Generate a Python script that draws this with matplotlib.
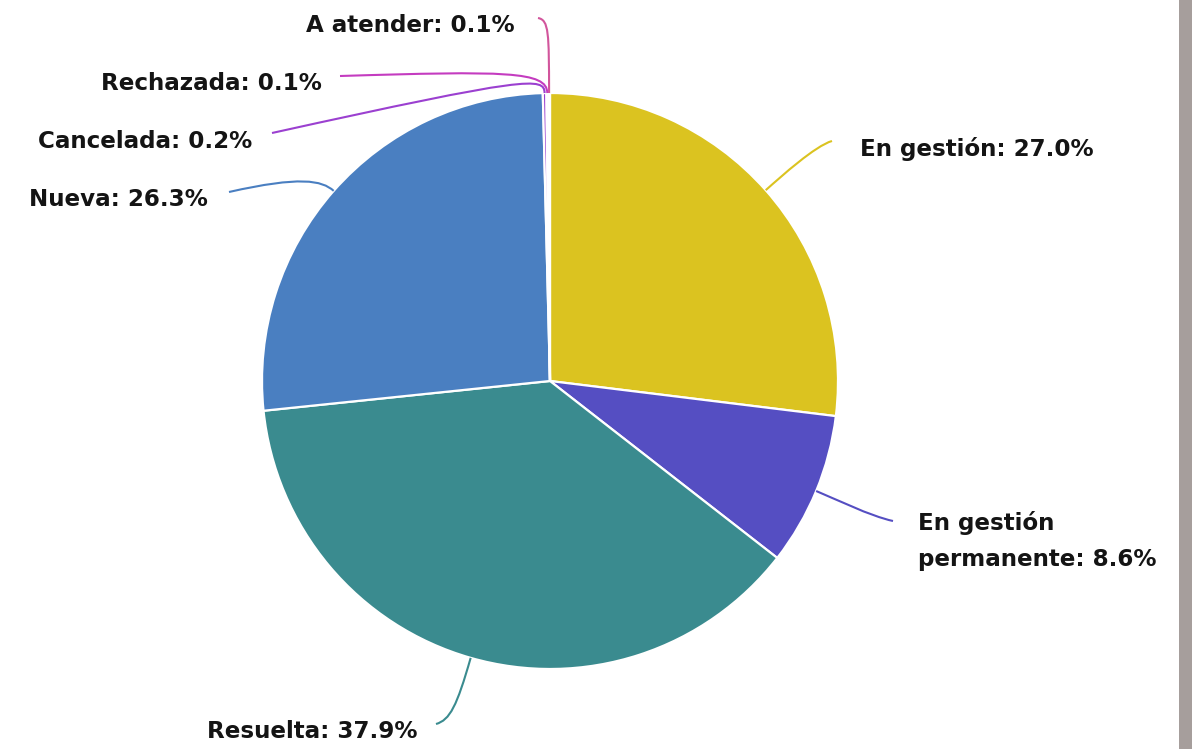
import matplotlib.pyplot as plt
from matplotlib.path import Path
from matplotlib.patches import PathPatch, Rectangle
import numpy as np

# datos del gráfico (porcentajes)
categorias = ["En gestión", "En gestión\npermanente", "Resuelta", "Nueva",
              "Cancelada", "Rechazada", "A atender"]
valores = [27.0, 8.6, 37.9, 26.3, 0.2, 0.1, 0.1]
colores = ["#DBC320", "#554EC2", "#3A8B8F", "#4A7FC1",
           "#9B40D0", "#C43CC0", "#D2559C"]

W, H = 1192, 749
cx, cy, R = 550, 381, 288   # centro y radio en pixeles (coordenadas imagen)

# posicion de las etiquetas: (x, y, ha, punto final del conector, a, control)
etiquetas = {
    "En gestión": (860, 149, "left", (832, 141), 22, (815, 146)),
    "En gestión\npermanente": (918, 541, "left", (893, 521), 20, (870, 516)),
    "Resuelta": (207, 731, "left", (436, 724), 50, (450, 720)),
    "Nueva": (208, 199, "right", (229, 192), 16, (300, 176)),
    "Cancelada": (252, 142, "right", (272, 133), 16, (530, 76)),
    "Rechazada": (322, 84, "right", (340, 76), 22, (505, 71)),
    "A atender": (515, 25, "right", (538, 18), 60, (549, 20)),
}


def img(x, y):
    # coordenadas de imagen (y hacia abajo) -> datos
    return (x, H - y)


fig = plt.figure(figsize=(W / 100, H / 100), dpi=100)
ax = fig.add_axes([0, 0, 1, 1])
ax.axis("off")

wedges, _ = ax.pie(valores, colors=colores, startangle=90, counterclock=False,
                   radius=R, center=img(cx, cy),
                   wedgeprops=dict(edgecolor="white", linewidth=1.6))
ax.set_xlim(0, W)
ax.set_ylim(0, H)
ax.set_aspect("equal")

for w, cat, val, col in zip(wedges, categorias, valores, colores):
    ang = np.deg2rad((w.theta1 + w.theta2) / 2)
    dx, dy = np.cos(ang), np.sin(ang)
    x0, y0 = img(cx, cy)
    p0 = (x0 + R * dx, y0 + R * dy)
    tx, ty, ha, fin, a, ctrl = etiquetas[cat]
    p1 = (p0[0] + a * dx, p0[1] + a * dy)
    p2 = img(*ctrl)
    p3 = img(*fin)
    path = Path([p0, p1, p2, p3], [Path.MOVETO, Path.CURVE4, Path.CURVE4, Path.CURVE4])
    ax.add_patch(PathPatch(path, facecolor="none", edgecolor=col, linewidth=1.5))
    ax.text(*img(tx, ty), f"{cat}: {val:.1f}%", ha=ha, va="center",
            fontsize=16.6, fontweight="bold", color="#141414", linespacing=1.75)

# franja gris a la derecha
fig.patches.append(Rectangle((1179 / W, 0), 13 / W, 1, transform=fig.transFigure,
                             facecolor="#A69E9C", edgecolor="none"))

plt.savefig("out.png", dpi=100)
